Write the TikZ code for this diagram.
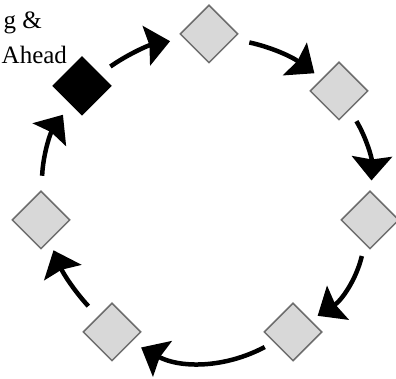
\documentclass[tikz,border=0pt]{standalone}
\usepackage{fontspec}
\setmainfont{Liberation Serif}
\usetikzlibrary{arrows.meta,shapes.geometric}
\definecolor{CycleFill}{HTML}{D8D8D8}
\definecolor{CycleLine}{HTML}{6E6E6E}

\begin{document}
\begin{tikzpicture}[x=1pt,y=1pt]
    \tikzset{d/.style={diamond,aspect=1,draw=CycleLine,fill=CycleFill,line width=1.5pt,minimum width=58pt,minimum height=58pt,inner sep=0pt},
      a/.style={-{Stealth[length=24pt,width=40pt,inset=3pt]},line width=4.5pt,bend left=16},
      t/.style={inner sep=0pt,font=\fontsize{25}{35}\selectfont}}
    \useasboundingbox (0,0) rectangle (396,379);
    \node[t,anchor=base east] (lbl1) at (42,350) {g \&};
    \node[t,anchor=base west] (lbl2) at (1.5,315) {Ahead};
    \node[d,fill=black,draw=black] (blk) at (82,293) {};
    \node[d] (n1) at (209,345) {};
    \node[d] (n2) at (339,288) {};
    \node[d] (n3) at (370,159) {};
    \node[d] (n4) at (293,47) {};
    \node[d] (n5) at (112,47) {};
    \node[d] (n6) at (41,159) {};
    \draw[a,bend left=12,shorten <=13pt,shorten >=14pt] (blk) to (n1);
    \draw[a,bend left=12,shorten <=16pt,shorten >=9pt] (n1) to (n2);
    \draw[a,shorten <=13pt,shorten >=11pt] (n2) to (n3);
    \draw[a,bend left=22,shorten <=12pt,shorten >=8pt] (n3) to (n4);
    \draw[a,bend left=28,shorten <=10pt,shorten >=11pt] (n4) to (n5);
    \draw[a,bend left=10,shorten <=14pt,shorten >=10pt] (n5) to (n6);
    \draw[a,shorten <=15pt,shorten >=13pt] (n6) to (blk);
  \end{tikzpicture}
\end{document}
